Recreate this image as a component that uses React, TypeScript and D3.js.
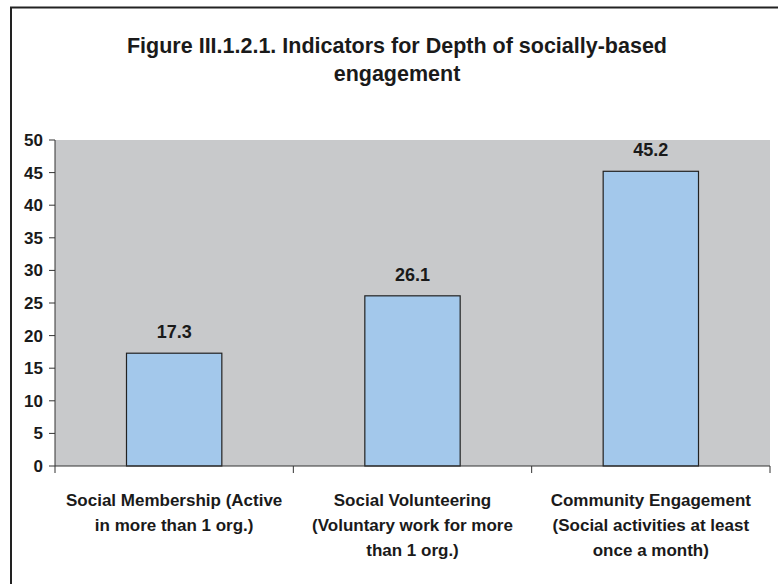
import React from "react";
import * as d3 from "d3";

const categories: string[][] = [
  ["Social Membership (Active", "in more than 1 org.)"],
  ["Social Volunteering", "(Voluntary work for more", "than 1 org.)"],
  ["Community Engagement", "(Social activities at least", "once a month)"],
];
const values: number[] = [17.3, 26.1, 45.2];
const yTicks: number[] = [0, 5, 10, 15, 20, 25, 30, 35, 40, 45, 50];
const titleLines: string[] = [
  "Figure III.1.2.1. Indicators for Depth of socially-based",
  "engagement",
];

const W = 778;
const H = 584;
const FONT = "'Liberation Sans Narrow', 'Arial Narrow', 'Liberation Sans', Arial, sans-serif";

export default function App() {
  const left = 55;
  const right = 770;
  const top = 140;
  const bottom = 466;

  const keys = categories.map((_, i) => String(i));
  const x = d3.scaleBand<string>().domain(keys).range([left, right]).padding(0);
  const y = d3.scaleLinear().domain([0, 50]).range([bottom, top]);
  const bw = x.bandwidth() * 0.4;

  const bandEdges = [left, ...keys.map((k) => (x(k) as number) + x.bandwidth())];

  return (
    <svg
      width={W}
      height={H}
      style={{ position: "absolute", left: 0, top: 0, background: "#fff" }}
      fontFamily={FONT}
    >
      {/* outer frame */}
      <rect x={11} y={7.5} width={W + 20} height={H + 20} fill="none" stroke="#222" strokeWidth={2} />

      {titleLines.map((t, i) => (
        <text
          key={i}
          x={397}
          y={53 + i * 28}
          textAnchor="middle"
          fontSize={21.5}
          fontWeight="bold"
          fill="#1a1a1a"
        >
          {t}
        </text>
      ))}

      {/* plot area */}
      <rect x={left} y={top} width={right - left} height={bottom - top} fill="#c8c9cb" />

      {/* bars */}
      {values.map((v, i) => {
        const cx = (x(keys[i]) as number) + x.bandwidth() / 2;
        return (
          <g key={i}>
            <rect
              x={cx - bw / 2}
              y={y(v)}
              width={bw}
              height={bottom - y(v)}
              fill="#a3c8eb"
              stroke="#222"
              strokeWidth={1.2}
            />
            <text
              x={cx}
              y={y(v) - 15}
              textAnchor="middle"
              fontSize={18}
              fontWeight="bold"
              fill="#1a1a1a"
            >
              {v.toFixed(1)}
            </text>
          </g>
        );
      })}

      {/* y axis */}
      <line x1={left} x2={left} y1={top} y2={bottom} stroke="#333" strokeWidth={1} />
      {yTicks.map((t) => (
        <g key={t}>
          <line x1={left - 6} x2={left} y1={y(t)} y2={y(t)} stroke="#333" strokeWidth={1} />
          <text
            x={left - 12}
            y={y(t) + 6}
            textAnchor="end"
            fontSize={17}
            fontWeight="bold"
            fill="#1a1a1a"
          >
            {t}
          </text>
        </g>
      ))}

      {/* x axis */}
      <line x1={left} x2={right} y1={bottom} y2={bottom} stroke="#333" strokeWidth={1} />
      {bandEdges.map((ex, i) => (
        <line key={i} x1={ex} x2={ex} y1={bottom} y2={bottom + 7} stroke="#333" strokeWidth={1} />
      ))}
      {categories.map((lines, i) => {
        const cx = (x(keys[i]) as number) + x.bandwidth() / 2;
        return (
          <text key={i} textAnchor="middle" fontSize={17} fontWeight="bold" fill="#1a1a1a">
            {lines.map((l, j) => (
              <tspan key={j} x={cx} y={506 + j * 25}>
                {l}
              </tspan>
            ))}
          </text>
        );
      })}
    </svg>
  );
}
